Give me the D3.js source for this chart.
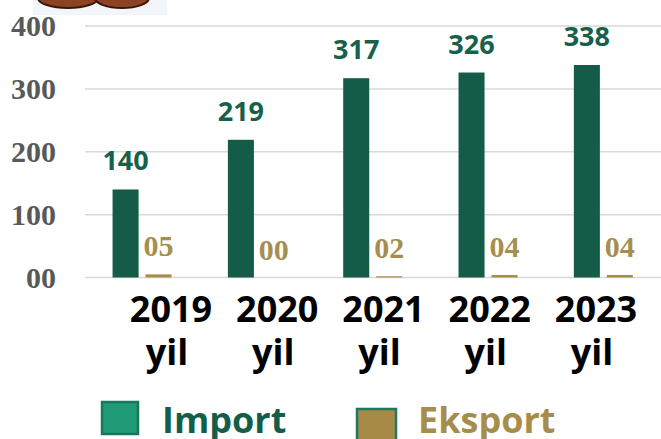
<!DOCTYPE html>
<html>
<head>
  <meta charset="utf-8"/>
  <title>Import / Eksport</title>
  <script src="https://d3js.org/d3.v7.min.js"></script>
  <style>
    html, body {
      margin: 0;
      padding: 0;
      width: 100%;
      height: 100%;
      overflow: hidden;
      background: #fff;
    }
    svg { display: block; }
    .grid line { stroke: #d9d9d9; stroke-width: 1.5px; }
    .ytick { font-family: "Liberation Serif", serif; font-weight: bold; font-size: 30px; fill: #595959; }
    .xlab { font-family: "Open Sans", sans-serif; font-weight: 700; font-size: 36px; fill: #000; }
    .imp-lab { font-family: "Open Sans", sans-serif; font-weight: 700; font-size: 27px; fill: #17604b; }
    .exp-lab { font-family: "Liberation Serif", serif; font-weight: bold; font-size: 30px; fill: #a68f4e; }
    .legend text { font-family: "Open Sans", sans-serif; font-weight: 700; font-size: 36px; }
  </style>
</head>
<body>
  <div id="chart"></div>
  <script>
    // data
    const years = ["2019", "2020", "2021", "2022", "2023"];
    const importValues = [140, 219, 317, 326, 338];
    const eksportValues = [5, 0, 2, 4, 4];
    const eksportLabels = ["05", "00", "02", "04", "04"];
    const yTicks = [0, 100, 200, 300, 400];
    const yTickLabels = ["00", "100", "200", "300", "400"];
    const series = ["Import", "Eksport"];

    const width = 661, height = 439;
    const colors = { Import: "#155c48", Eksport: "#a68f4e" };

    const svg = d3.select("#chart").append("svg")
      .attr("width", width)
      .attr("height", height);

    // cropped picture peeking in at the top
    const logo = svg.append("g").attr("class", "logo");
    logo.append("rect")
      .attr("x", 33).attr("y", 0).attr("width", 134).attr("height", 15)
      .attr("fill", "#f2f6f8");
    logo.append("ellipse")
      .attr("cx", 68).attr("cy", -2).attr("rx", 30).attr("ry", 10)
      .attr("fill", "#8a4424").attr("stroke", "#3b1608").attr("stroke-width", 2);
    logo.append("ellipse")
      .attr("cx", 122).attr("cy", -2).attr("rx", 27).attr("ry", 10)
      .attr("fill", "#8a4424").attr("stroke", "#3b1608").attr("stroke-width", 2);

    // scales
    const x0 = d3.scaleBand().domain(years).range([84.4, 661]).padding(0);
    const mid = x0.bandwidth() / 2;
    const x1 = d3.scaleBand().domain(series)
      .range([mid - 29.5, mid + 29.5])
      .paddingInner(0.21);
    const y = d3.scaleLinear().domain([0, 400]).range([277.5, 26]);

    // gridlines
    svg.append("g").attr("class", "grid")
      .selectAll("line")
      .data(yTicks)
      .enter().append("line")
      .attr("x1", 85).attr("x2", width)
      .attr("y1", d => y(d)).attr("y2", d => y(d));

    // y tick labels
    svg.append("g")
      .selectAll("text")
      .data(yTicks)
      .enter().append("text")
      .attr("class", "ytick")
      .attr("x", 56)
      .attr("y", d => y(d))
      .attr("dy", "0.34em")
      .attr("text-anchor", "end")
      .text((d, i) => yTickLabels[i]);

    // bars
    const rows = years.map((yr, i) => ({
      year: yr,
      values: [
        { key: "Import", v: importValues[i], label: String(importValues[i]) },
        { key: "Eksport", v: eksportValues[i], label: eksportLabels[i] }
      ]
    }));

    const group = svg.append("g")
      .selectAll("g")
      .data(rows)
      .enter().append("g")
      .attr("transform", d => `translate(${x0(d.year)},0)`);

    group.selectAll("rect")
      .data(d => d.values)
      .enter().append("rect")
      .attr("x", d => x1(d.key))
      .attr("width", x1.bandwidth())
      .attr("y", d => y(d.v))
      .attr("height", d => y(0) - y(d.v))
      .attr("fill", d => colors[d.key]);

    // value labels
    group.selectAll("text")
      .data(d => d.values)
      .enter().append("text")
      .attr("class", d => d.key === "Import" ? "imp-lab" : "exp-lab")
      .attr("x", d => x1(d.key) + x1.bandwidth() / 2)
      .attr("y", d => y(d.v) - (d.key === "Import" ? 19 : 18))
      .attr("text-anchor", "middle")
      .text(d => d.label);

    // category labels (sit a bit apart from the bars in the original)
    const xl = d3.scalePoint().domain(years).range([171, 596]);
    const xlab = svg.append("g")
      .selectAll("g")
      .data(years)
      .enter().append("g")
      .attr("transform", d => `translate(${xl(d)},0)`);
    xlab.append("text")
      .attr("class", "xlab")
      .attr("y", 322)
      .attr("text-anchor", "middle")
      .text(d => d);
    xlab.append("text")
      .attr("class", "xlab")
      .attr("x", -4)
      .attr("y", 365)
      .attr("text-anchor", "middle")
      .text("yil");

    // legend
    const legendData = [
      { name: "Import", fill: "#1f9b77", stroke: "#16775b", text: "#135e49", rx: 102, ry: 402, w: 36, h: 32, tx: 162 },
      { name: "Eksport", fill: "#a68a45", stroke: "#1d7a5d", text: "#a68d4b", rx: 357, ry: 409, w: 39, h: 33, tx: 418 }
    ];
    const legend = svg.append("g").attr("class", "legend");
    const li = legend.selectAll("g")
      .data(legendData)
      .enter().append("g");
    li.append("rect")
      .attr("x", d => d.rx).attr("y", d => d.ry)
      .attr("width", d => d.w).attr("height", d => d.h)
      .attr("fill", d => d.fill)
      .attr("stroke", d => d.stroke)
      .attr("stroke-width", 2.5);
    li.append("text")
      .attr("x", d => d.tx)
      .attr("y", 433)
      .attr("fill", d => d.text)
      .text(d => d.name);
  </script>
</body>
</html>
